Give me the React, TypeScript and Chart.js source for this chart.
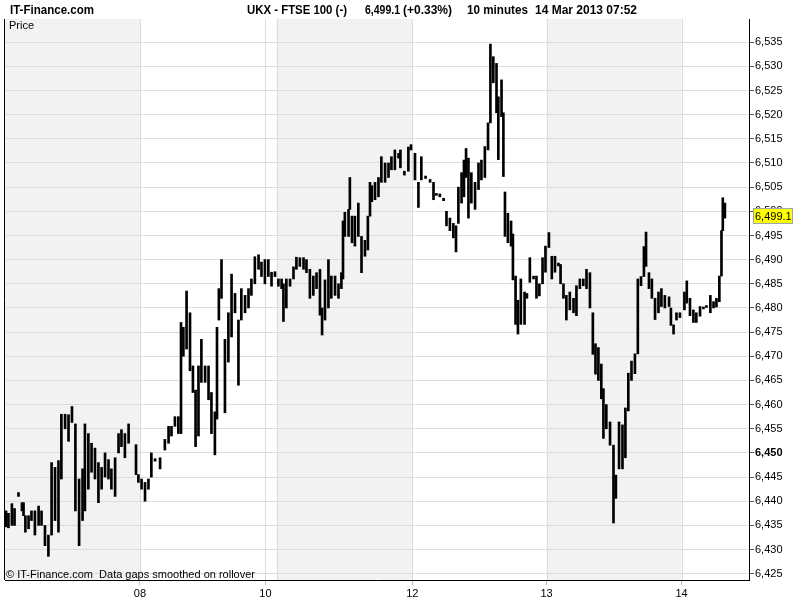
import React, { useEffect, useRef } from "react";
import { Chart, registerables } from "chart.js";
Chart.register(...registerables);

const FONT = "'Liberation Sans', Arial, sans-serif";

// 10-minute bar index (trading time) since 7 Mar 2013 08:00
const barIndex = [
  0.4, 1.3, 2.6, 3.6, 5.1, 6.4, 7.0, 7.7, 8.9, 10.0, 11.3, 12.7, 13.8, 15.1, 16.4, 17.6, 18.9, 20.2, 21.3, 22.7,
  24.0, 25.3, 26.6, 28.0, 29.3, 30.2, 31.5, 32.7, 34.0, 35.3, 36.5, 37.8, 39.1, 40.2, 41.6, 42.9, 44.0, 45.3, 46.7,
  49.5, 50.4, 51.6, 52.9, 54.2, 55.3, 56.7, 58.6, 60.4, 61.8, 62.9, 64.2, 65.5, 66.5, 67.4, 68.6, 69.9, 71.0, 72.0,
  73.1, 74.2, 75.6, 76.9, 78.0, 79.3, 80.1, 80.8, 81.8, 83.1, 84.4, 85.6, 86.9, 88.2, 89.3, 90.7, 92.0, 93.1, 94.4,
  95.8, 96.9, 98.2, 99.5, 100.7, 102.0, 103.3, 104.5, 105.2, 106.3, 107.7, 109.0, 110.1, 111.4, 112.8, 113.9, 115.2,
  116.5, 117.7, 119.0, 119.8, 120.9, 122.2, 123.3, 124.7, 126.0, 127.1, 127.7, 128.4, 129.8, 130.3, 131.1, 132.2,
  133.5, 134.7, 136.0, 137.1, 137.9, 138.6, 139.8, 141.1, 142.2, 143.6, 144.9, 146.0, 147.3, 148.7, 149.4, 150.9,
  152.4, 153.4, 154.9, 156.2, 157.3, 158.9, 160.6, 161.9, 163.0, 164.3, 165.7, 166.8, 168.1, 169.4, 170.4, 171.3,
  172.5, 173.4, 174.2, 175.1, 176.2, 177.6, 178.9, 180.0, 181.3, 182.5, 183.4, 184.5, 185.7, 186.4, 187.6, 188.3,
  188.9, 190.0, 191.2, 191.9, 192.9, 193.8, 194.9, 196.3, 197.2, 198.3, 199.7, 200.8, 201.9, 203.1, 204.2, 205.5,
  206.6, 207.8, 209.1, 209.9, 211.0, 212.1, 213.4, 214.8, 215.9, 217.2, 218.5, 219.7, 221.0, 222.1, 223.1, 224.2,
  225.3, 226.1, 227.2, 228.6, 229.9, 230.8, 232.0, 233.3, 234.4, 235.5, 236.7, 238.0, 239.1, 240.3, 241.4, 242.2,
  243.3, 244.4, 245.6, 246.9, 248.0, 249.3, 250.9, 251.6, 252.6, 253.7, 255.0, 256.7, 257.6, 258.8, 260.1, 261.2,
  262.6, 263.9, 265.0, 266.5, 267.7, 268.8, 269.9, 270.7, 271.2, 272.0,
];

const lows = [
  6434.7, 6434.5, 6435, 6435, 6441, 6438, 6437, 6433.6, 6434.3, 6436, 6433, 6435, 6435, 6430.8, 6428.6, 6433, 6436, 6433.6, 6444.6, 6455,
  6452.4, 6456.3, 6438, 6430.8, 6436, 6438, 6442.5, 6446, 6444.6, 6439.7, 6442.5, 6445, 6444.6, 6442.5, 6441, 6450, 6451.3, 6449, 6452,
  6445.5, 6443.9, 6442.5, 6440, 6442.5, 6445, 6448.3, 6446.7, 6450.6, 6452, 6453.5, 6455.5, 6454, 6454, 6470, 6471.5, 6467, 6462.5, 6451.3,
  6453.5, 6464.6, 6464.6, 6461, 6454, 6449.6, 6457, 6477.5, 6482, 6458.3, 6468.8, 6474, 6479, 6464, 6477.5, 6479, 6480, 6482.6, 6485,
  6488, 6486.5, 6485, 6486.5, 6484.5, 6486.5, 6484.5, 6484, 6477.2, 6480, 6484.5, 6486, 6488, 6488.6, 6488, 6487.3, 6482,
  6482.6, 6484, 6478.5, 6474.4, 6477.5, 6480, 6482, 6482.6, 6482, 6484, 6486, 6494.8, 6494.8, 6500.4, 6493.5, 6492.8,
  6494.8, 6487.3, 6490.7, 6492, 6499, 6502, 6502.4, 6503, 6506, 6506, 6507, 6508.6, 6508.6, 6511, 6509, 6507.5,
  6508.3, 6512.7, 6506.5, 6500.8, 6506.5, 6506.8, 6506, 6502.4, 6503.3, 6503, 6502.2, 6497, 6496, 6494.5, 6491.6, 6497.5,
  6501.7, 6503, 6507, 6498.6, 6501.7, 6500.4, 6504.5, 6506.5, 6507, 6512.7, 6518.3, 6526.6, 6520.4, 6510.7, 6519.6, 6507.2,
  6494.8, 6493.5, 6492.8, 6485.8, 6476.6, 6474.6, 6476.6, 6476.6, 6482, 6485.3, 6486, 6482, 6482.5, 6485, 6487.4, 6492.5,
  6486, 6487.4, 6488.7, 6485, 6482, 6477.5, 6479.6, 6479, 6478.4, 6484, 6484.6, 6484, 6480, 6470.4, 6466.3, 6465,
  6461.2, 6453, 6455, 6451.6, 6435.5, 6440.6, 6446.7, 6446.7, 6449, 6458.7, 6465, 6466.4, 6470.5, 6484.6, 6486.5, 6488.6,
  6484, 6482, 6477.6, 6479, 6480.3, 6480, 6480.3, 6476.4, 6474.6, 6477.5, 6478, 6479.6, 6481, 6478.4, 6477, 6477,
  6478.3, 6479.8, 6480.1, 6479, 6480, 6480.2, 6481.3, 6486.6, 6496, 6498.6,
];

const highs = [
  6438, 6437.5, 6439.5, 6438.5, 6441.8, 6439.7, 6439.7, 6437, 6437, 6438, 6438, 6439, 6438, 6435, 6433, 6448, 6447, 6448.4, 6458, 6458,
  6457.9, 6459.6, 6456, 6444.6, 6446.7, 6456, 6454, 6452, 6451, 6448, 6447, 6450, 6448.6, 6446.7, 6449, 6454, 6454.8, 6454, 6456,
  6451.7, 6445.5, 6444.6, 6443.9, 6444.6, 6450, 6448.8, 6449, 6452.8, 6455.5, 6455.5, 6457.5, 6457.5, 6477, 6476, 6483.5, 6479, 6468, 6463,
  6468, 6473.5, 6468, 6468, 6462.5, 6458.5, 6476, 6484, 6490, 6473.5, 6479, 6487, 6483, 6477.5, 6484, 6482.6, 6484, 6486, 6490.6,
  6491, 6489.5, 6490, 6490, 6487.4, 6487.5, 6486, 6486, 6485, 6486, 6486, 6488.5, 6490.5, 6490.4, 6490.4, 6490, 6488,
  6486.6, 6487.3, 6488, 6480, 6485.8, 6490, 6486.6, 6486.6, 6485, 6487.3, 6498, 6499.8, 6500.4, 6507, 6499, 6499,
  6501.7, 6494.8, 6494, 6499, 6506, 6505.3, 6506, 6507, 6511.3, 6510, 6510, 6511.3, 6512.7, 6512, 6512.7, 6508.3,
  6513.3, 6513.8, 6512, 6506, 6511.3, 6507.3, 6506.6, 6506, 6503.7, 6503.6, 6502.7, 6500, 6498.6, 6497.5, 6497, 6505,
  6508, 6510.6, 6513, 6511, 6508, 6506, 6510, 6510.6, 6513.4, 6518.3, 6534.6, 6532, 6530.6, 6523.7, 6527.2, 6520.4,
  6504, 6499.6, 6498, 6495.3, 6486.6, 6481.6, 6486, 6483.3, 6483, 6490.4, 6486.6, 6486.6, 6485, 6490.4, 6492.8, 6495.6,
  6490.7, 6490.7, 6489.3, 6489, 6485, 6482.6, 6483.3, 6482, 6484.6, 6486, 6486, 6488, 6487.3, 6479, 6472.6, 6471.8,
  6468.4, 6463.3, 6460, 6456.4, 6451.6, 6445.4, 6456.4, 6455.8, 6459.3, 6466.5, 6469, 6470.5, 6486, 6486.5, 6492.7, 6495.7,
  6487.3, 6486, 6482, 6483.3, 6484, 6482.6, 6482.3, 6480, 6476.5, 6479, 6479, 6483.3, 6485.6, 6482, 6479.6, 6479,
  6480.3, 6480.2, 6480.5, 6482.6, 6481.3, 6482, 6486.6, 6496, 6502.8, 6501.7,
];

const xTickPositions = [51, 98.4, 153.9, 204.6, 255.6];
const xTickLabels = ["08", "10", "12", "13", "14"];
const dayGridLines = [51, 98.4, 102.6, 153.9, 204.6, 255.6];
const shadedSessions: [number, number][] = [[0, 51], [102.6, 153.9], [204.6, 255.6]];
const lastPrice = 6499.1;
const boldLevel = 6450;
// [text, left x, max width]
const titleParts: [string, number, number][] = [
  ["UKX - FTSE 100 (-)", 247, 100],
  ["6,499.1", 365, 35],
  ["(+0.33%)", 403, 52],
  ["10 minutes", 467, 61],
  ["14 Mar 2013 07:52", 535, 102],
];

const decorPlugin = {
  id: "decor",
  beforeDraw(chart: any) {
    const { ctx, chartArea: a, scales } = chart;
    const x = scales.x;
    ctx.save();
    ctx.fillStyle = "#ffffff";
    ctx.fillRect(0, 0, chart.width, chart.height);
    ctx.fillStyle = "#f2f2f2";
    for (const [s, e] of shadedSessions) {
      const x0 = Math.max(a.left, x.getPixelForValue(s));
      const x1 = Math.min(a.right, x.getPixelForValue(e));
      ctx.fillRect(x0, a.top, x1 - x0, a.bottom - a.top);
    }
    ctx.strokeStyle = "#dcdcdc";
    ctx.lineWidth = 1;
    for (const g of dayGridLines) {
      const px = Math.round(x.getPixelForValue(g)) + 0.5;
      ctx.beginPath();
      ctx.moveTo(px, a.top);
      ctx.lineTo(px, a.bottom);
      ctx.stroke();
    }
    ctx.restore();
  },
  afterDraw(chart: any) {
    const { ctx, chartArea: a, scales } = chart;
    ctx.save();
    ctx.strokeStyle = "#000";
    ctx.lineWidth = 1;
    ctx.beginPath();
    ctx.moveTo(a.left - 0.5, a.top);
    ctx.lineTo(a.left - 0.5, a.bottom);
    ctx.stroke();
    ctx.fillStyle = "#000";
    ctx.textBaseline = "alphabetic";
    ctx.font = `bold 12px ${FONT}`;
    ctx.fillText("IT-Finance.com", 10, 14, 84);
    for (const [t, px, w] of titleParts) ctx.fillText(t, px, 14, w);
    ctx.font = `11px ${FONT}`;
    ctx.fillText("Price", 9, 29);
    ctx.fillText("\u00A9 IT-Finance.com  Data gaps smoothed on rollover", 6, 578);
    const py = Math.round(scales.y.getPixelForValue(lastPrice));
    ctx.fillStyle = "#ffff00";
    ctx.fillRect(753.5, py - 7.5, 39, 15);
    ctx.strokeStyle = "#9aa7b0";
    ctx.strokeRect(753.5, py - 7.5, 39, 15);
    ctx.fillStyle = "#000";
    ctx.textBaseline = "middle";
    ctx.fillText(lastPrice.toLocaleString("en-US", { minimumFractionDigits: 1 }), 755, py + 0.5);
    ctx.restore();
  },
};

export default function App() {
  const ref = useRef<HTMLCanvasElement | null>(null);
  useEffect(() => {
    if (!ref.current) return;
    const chart = new Chart(ref.current, {
      type: "bar",
      data: {
        datasets: [
          {
            data: barIndex.map((x, i) => ({ x, y: [lows[i], highs[i]] })) as any,
            backgroundColor: "#000000",
            borderWidth: 0,
            barThickness: 2,
            minBarLength: 1,
            grouped: false,
          } as any,
        ],
      },
      options: {
        animation: false,
        responsive: false,
        devicePixelRatio: 1,
        layout: { padding: { left: 5, top: 19, right: 0, bottom: 0 } },
        plugins: { legend: { display: false }, tooltip: { enabled: false }, title: { display: false } },
        scales: {
          x: {
            type: "linear",
            min: 0,
            max: 281.1,
            offset: false,
            grid: { display: true, drawOnChartArea: false, drawTicks: true, tickLength: 5, tickColor: "#b4c0c8", offset: false },
            border: { display: true, color: "#000", width: 1 },
            ticks: {
              color: "#000",
              padding: 2,
              maxRotation: 0,
              autoSkip: false,
              font: { family: FONT, size: 11 },
              callback: (_v: any, i: number) => xTickLabels[i],
            },
            afterBuildTicks: (s: any) => {
              s.ticks = xTickPositions.map((v) => ({ value: v }));
            },
            afterFit: (s: any) => {
              s.height = 20;
            },
          } as any,
          y: {
            type: "linear",
            position: "right",
            min: 6423.7,
            max: 6539.8,
            grid: { color: "#dcdcdc", drawTicks: true, tickLength: 5, tickColor: "#555" },
            border: { display: true, color: "#000", width: 1 },
            ticks: {
              stepSize: 5,
              includeBounds: false,
              padding: 1,
              color: "#000",
              font: (c: any) => ({
                family: FONT,
                size: 11,
                weight: c.tick && c.tick.value === boldLevel ? "bold" : "normal",
              }),
              callback: (v: any) => Number(v).toLocaleString("en-US"),
            },
            afterFit: (s: any) => {
              s.width = 51;
            },
          } as any,
        },
      },
      plugins: [decorPlugin],
    });
    return () => chart.destroy();
  }, []);
  return (
    <div style={{ position: "absolute", left: 0, top: 0, width: 800, height: 600, background: "#fff" }}>
      <canvas ref={ref} width={800} height={600} style={{ display: "block" }} />
    </div>
  );
}
